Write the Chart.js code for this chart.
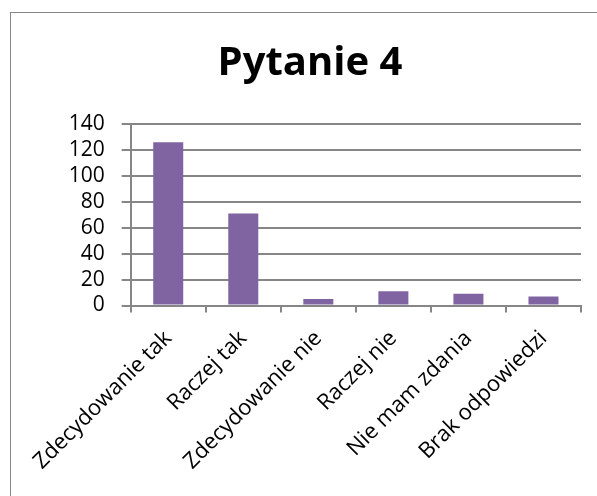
<!DOCTYPE html>
<html>
<head>
<meta charset="utf-8">
<script src="https://cdn.jsdelivr.net/npm/chart.js@4/dist/chart.umd.min.js"></script>
<style>
  html, body { margin: 0; padding: 0; background: #fff; overflow: hidden; }
  .chart-box {
    position: absolute;
    left: 10px;
    top: 12px;
    width: 600px;
    height: 490px;
    border-top: 1px solid #868686;
    border-left: 1px solid #868686;
  }
  canvas { display: block; }
</style>
</head>
<body>
<div class="chart-box">
  <canvas id="chart" width="600" height="483"></canvas>
</div>
<script>
const TITLE = 'Pytanie 4';
const CATEGORIES = ['Zdecydowanie tak', 'Raczej tak', 'Zdecydowanie nie', 'Raczej nie', 'Nie mam zdania', 'Brak odpowiedzi'];
const VALUES = [126, 71, 5, 11, 9, 7];
const Y_MIN = 0;
const Y_MAX = 140;
const Y_STEP = 20;

const BAR_COLOR = '#8064A2';
const GRID_COLOR = '#868686';
const FONT = '"Open Sans", "Noto Sans", sans-serif';

(function () {
  const ctx = document.getElementById('chart').getContext('2d');

  new Chart(ctx, {
    type: 'bar',
    data: {
      labels: CATEGORIES,
      datasets: [{
        data: VALUES,
        backgroundColor: BAR_COLOR,
        borderWidth: 0,
        categoryPercentage: 1,
        barPercentage: 0.4
      }]
    },
    options: {
      responsive: false,
      animation: false,
      devicePixelRatio: 1,
      // left/right padding chosen so the title stays centred on the whole frame
      layout: { padding: { left: 28, right: 30, top: 0, bottom: 0 } },
      plugins: {
        legend: { display: false },
        tooltip: { enabled: false },
        title: {
          display: true,
          text: TITLE,
          color: '#000',
          font: { family: FONT, size: 40, weight: 'bold', lineHeight: 1.2 },
          padding: { top: 27, bottom: 36 }
        }
      },
      scales: {
        x: {
          grid: {
            offset: true,
            drawOnChartArea: false,
            drawTicks: true,
            tickLength: 7,
            color: GRID_COLOR,
            lineWidth: 2
          },
          border: { color: GRID_COLOR, width: 2 },
          ticks: {
            color: '#000',
            font: { family: FONT, size: 22 },
            minRotation: 45,
            maxRotation: 45,
            padding: 13,
            autoSkip: false
          },
          afterFit: scale => {
            scale.height = 190.5
            // long rotated labels may overhang the left edge, as in the original
            scale.paddingLeft = 0
            scale.paddingRight = 0
          }
        },
        y: {
          min: Y_MIN,
          max: Y_MAX,
          grid: {
            color: GRID_COLOR,
            lineWidth: 2,
            drawTicks: true,
            tickLength: 9
          },
          border: { color: GRID_COLOR, width: 2 },
          ticks: {
            stepSize: Y_STEP,
            autoSkip: false,
            color: '#000',
            font: { family: FONT, size: 21 },
            padding: 17
          },
          afterFit: scale => { scale.width = 91.7 }
        }
      }
    }
  });
})();
</script>
</body>
</html>
